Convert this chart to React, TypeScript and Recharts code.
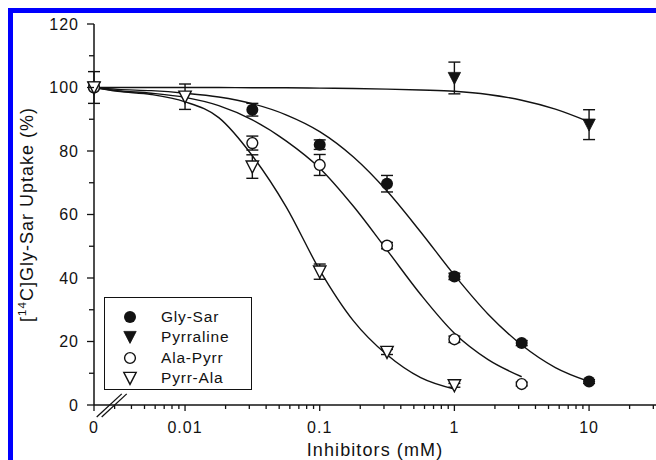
import {
  ComposedChart,
  Line,
  Scatter,
  XAxis,
  YAxis,
  ErrorBar,
  ReferenceLine,
} from "recharts";

// concentrations (mM) of the measured points; 0 sits left of the axis break
const conc = [0, 0.01, 0.0316, 0.1, 0.316, 1, 3.16, 10];

const glySar = [100, null, 93, 82, 69.7, 40.5, 19.5, 7.4];
const glySarErr = [null, null, 2, 1.5, 2.6, 1, 0.8, 0.6];
const pyrraline = [100, null, null, null, null, 103, null, 88.3];
const pyrralineErr = [5, null, null, null, null, 5, null, 4.7];
const alaPyrr = [100, null, 82.5, 75.6, 50.2, 20.7, 6.6, null];
const alaPyrrErr = [null, null, 2.2, 3.3, 1, 1, 0.6, null];
const pyrrAla = [100, 97.1, 75.1, 42, 16.7, 6.2, null, null];
const pyrrAlaErr = [null, 4, 3.7, 2.4, 0.8, 0.6, null, null];

// fitted curves (first point is the "0" end)
const fitConc = [
  0, 0.00316, 0.00562, 0.01, 0.0178, 0.0316, 0.0562, 0.1, 0.178, 0.316, 0.562,
  1, 1.78, 3.16, 5.62, 10,
];
const glySarFit = [
  100, 99.4, 99.0, 98.2, 97.0, 94.9, 91.4, 86.1, 78.1, 67.4, 54.5, 40.9, 28.6,
  18.9, 11.8, 7.4,
];
const pyrralineFit = [
  100, 100, 100, 100, 100, 99.9, 99.9, 99.8, 99.7, 99.5, 99.2, 98.8, 97.8, 96.0,
  93.2, 89.2,
];
const alaPyrrFit = [
  100, 99.0, 98.2, 96.9, 94.3, 89.8, 83.2, 74.6, 62.6, 48.8, 34.8, 22.6, 14.3,
  8.9, null, null,
];
const pyrrAlaFit = [
  100, 98.8, 97.8, 95.5, 90.5, 78.5, 62.5, 42.5, 26.5, 15.8, 8.6, 5.0, null,
  null, null, null,
];

const xMajorConc = [0, 0.01, 0.1, 1, 10];
const xMajorLabels = ["0", "0.01", "0.1", "1", "10"];
const yTicks = [0, 10, 20, 30, 40, 50, 60, 70, 80, 90, 100, 110, 120];

const ZERO_POS = -2.676; // log position given to "0" on the broken axis
const X_MAX = 1.497;
const INK = "#121212";
const FONT = '"Liberation Sans", Arial, sans-serif';

const pos = (c: number) => (c === 0 ? ZERO_POS : Math.log10(c));

const minorConc: number[] = [];
[0.001, 0.01, 0.1, 1, 10].forEach((d) => {
  for (let k = 2; k <= 9; k++) {
    const p = Math.log10(d * k);
    if (p > ZERO_POS + 0.1 && p < X_MAX) minorConc.push(d * k);
  }
});
const xMajorPos = xMajorConc.map(pos);
const xTicks = [...xMajorPos, ...minorConc.map(pos)].sort((a, b) => a - b);

// axis break marks, in axis units
const breakMarks = [
  [
    { x: -2.656, y: -3.8 },
    { x: -2.47, y: 3.5 },
  ],
  [
    { x: -2.619, y: -3.8 },
    { x: -2.433, y: 3.5 },
  ],
];

type Kind = "dot" | "tri" | "ring" | "openTri";

const series: {
  name: string;
  kind: Kind;
  values: (number | null)[];
  err: (number | null)[];
  fit: (number | null)[];
}[] = [
  { name: "Gly-Sar", kind: "dot", values: glySar, err: glySarErr, fit: glySarFit },
  { name: "Pyrraline", kind: "tri", values: pyrraline, err: pyrralineErr, fit: pyrralineFit },
  { name: "Ala-Pyrr", kind: "ring", values: alaPyrr, err: alaPyrrErr, fit: alaPyrrFit },
  { name: "Pyrr-Ala", kind: "openTri", values: pyrrAla, err: pyrrAlaErr, fit: pyrrAlaFit },
];

function Marker({ kind, cx, cy }: { kind: Kind; cx: number; cy: number }) {
  if (kind === "dot") return <circle cx={cx} cy={cy} r={6} fill={INK} />;
  if (kind === "ring")
    return <circle cx={cx} cy={cy} r={5.4} fill="#fff" stroke={INK} strokeWidth={1.4} />;
  const pts = `${cx - 6.2},${cy - 5.6} ${cx + 6.2},${cy - 5.6} ${cx},${cy + 6.4}`;
  return (
    <polygon
      points={pts}
      fill={kind === "tri" ? INK : "#fff"}
      stroke={INK}
      strokeWidth={kind === "tri" ? 0.8 : 1.4}
    />
  );
}

function XTick(props: any) {
  const { x, y, payload } = props;
  const i = xMajorPos.findIndex((p) => Math.abs(p - payload.value) < 1e-6);
  const major = i >= 0;
  return (
    <g>
      <line x1={x} y1={y} x2={x} y2={y + (major ? 6 : 4)} stroke={INK} strokeWidth={1.3} />
      {major && (
        <text
          x={x}
          y={y + 28}
          textAnchor="middle"
          fill={INK}
          fontFamily={FONT}
          fontSize={16}
          letterSpacing={1}
        >
          {xMajorLabels[i]}
        </text>
      )}
    </g>
  );
}

function YTick(props: any) {
  const { x, y, payload } = props;
  const major = payload.value % 20 === 0;
  return (
    <g>
      <line x1={x} y1={y} x2={x - (major ? 7 : 5)} y2={y} stroke={INK} strokeWidth={1.3} />
      {major && (
        <text
          x={x - 15}
          y={y + 5.7}
          textAnchor="end"
          fill={INK}
          fontFamily={FONT}
          fontSize={16}
          letterSpacing={1}
        >
          {payload.value}
        </text>
      )}
    </g>
  );
}

function LegendBox() {
  return (
    <div
      style={{
        position: "absolute",
        left: 104,
        top: 297,
        width: 146,
        height: 91,
        border: `1px solid ${INK}`,
        background: "#fff",
        fontFamily: FONT,
        fontSize: 15.5,
        letterSpacing: 0.8,
        color: INK,
      }}
    >
      {series.map((s, i) => (
        <div
          key={s.name}
          style={{
            position: "absolute",
            left: 0,
            top: 9 + i * 20.3,
            height: 20,
            display: "flex",
            alignItems: "center",
          }}
        >
          <svg width={16} height={16} style={{ marginLeft: 17 }}>
            <Marker kind={s.kind} cx={8} cy={8} />
          </svg>
          <span style={{ marginLeft: 23 }}>{s.name}</span>
        </div>
      ))}
    </div>
  );
}

export default function App() {
  return (
    <div
      style={{
        position: "absolute",
        left: 0,
        top: 0,
        width: 656,
        height: 460,
        overflow: "hidden",
        background: "#fff",
      }}
    >
      <ComposedChart
        width={656}
        height={460}
        margin={{ top: 24, right: 0, bottom: 0, left: 0 }}
      >
        <XAxis
          type="number"
          dataKey="t"
          domain={[ZERO_POS, X_MAX]}
          ticks={xTicks}
          interval={0}
          tick={<XTick />}
          tickLine={false}
          tickSize={0}
          tickMargin={0}
          axisLine={{ stroke: INK, strokeWidth: 1.5 }}
          height={55}
          label={{
            content: ({ viewBox }: any) => (
              <text
                x={viewBox.x + viewBox.width / 2}
                y={viewBox.y + 51}
                textAnchor="middle"
                fill={INK}
                fontFamily={FONT}
                fontSize={18}
                letterSpacing={1.1}
              >
                Inhibitors (mM)
              </text>
            ),
          }}
        />
        <YAxis
          type="number"
          dataKey="v"
          domain={[0, 120]}
          ticks={yTicks}
          interval={0}
          tick={<YTick />}
          tickLine={false}
          tickSize={0}
          tickMargin={0}
          axisLine={{ stroke: INK, strokeWidth: 1.5 }}
          width={94}
          label={{
            content: ({ viewBox }: any) => {
              const cx = 33;
              const cy = viewBox.y + viewBox.height / 2;
              return (
                <text
                  x={cx}
                  y={cy}
                  transform={`rotate(-90, ${cx}, ${cy})`}
                  textAnchor="middle"
                  fill={INK}
                  fontFamily={FONT}
                  fontSize={18}
                  letterSpacing={1}
                >
                  [<tspan fontSize={11.5} dy={-7}>14</tspan>
                  <tspan dy={7}>C]Gly-Sar Uptake (%)</tspan>
                </text>
              );
            },
          }}
        />
        {breakMarks.map((seg, i) => (
          <ReferenceLine
            key={`b${i}`}
            segment={seg}
            ifOverflow="visible"
            stroke={INK}
            strokeWidth={1.3}
          />
        ))}
        {series.map((s) => (
          <Line
            key={`fit-${s.name}`}
            data={fitConc
              .map((c, i) => ({ t: pos(c), v: s.fit[i] }))
              .filter((d) => d.v != null)}
            dataKey="v"
            type="monotone"
            stroke={INK}
            strokeWidth={1.4}
            dot={false}
            activeDot={false}
            isAnimationActive={false}
          />
        ))}
        {series.map((s) => (
          <Scatter
            key={`pts-${s.name}`}
            name={s.name}
            data={conc
              .map((c, i) => ({ t: pos(c), v: s.values[i], err: s.err[i] }))
              .filter((d) => d.v != null)}
            dataKey="v"
            shape={(p: any) => <Marker kind={s.kind} cx={p.cx} cy={p.cy} />}
            isAnimationActive={false}
          >
            <ErrorBar
              dataKey="err"
              direction="y"
              width={6}
              stroke={INK}
              strokeWidth={1.4}
              isAnimationActive={false}
            />
          </Scatter>
        ))}
      </ComposedChart>
      <LegendBox />
      <div
        style={{
          position: "absolute",
          left: 8,
          top: 8,
          width: 648,
          height: 5,
          background: "#0000fe",
        }}
      />
      <div
        style={{
          position: "absolute",
          left: 8,
          top: 8,
          width: 5,
          height: 452,
          background: "#0000fe",
        }}
      />
    </div>
  );
}
